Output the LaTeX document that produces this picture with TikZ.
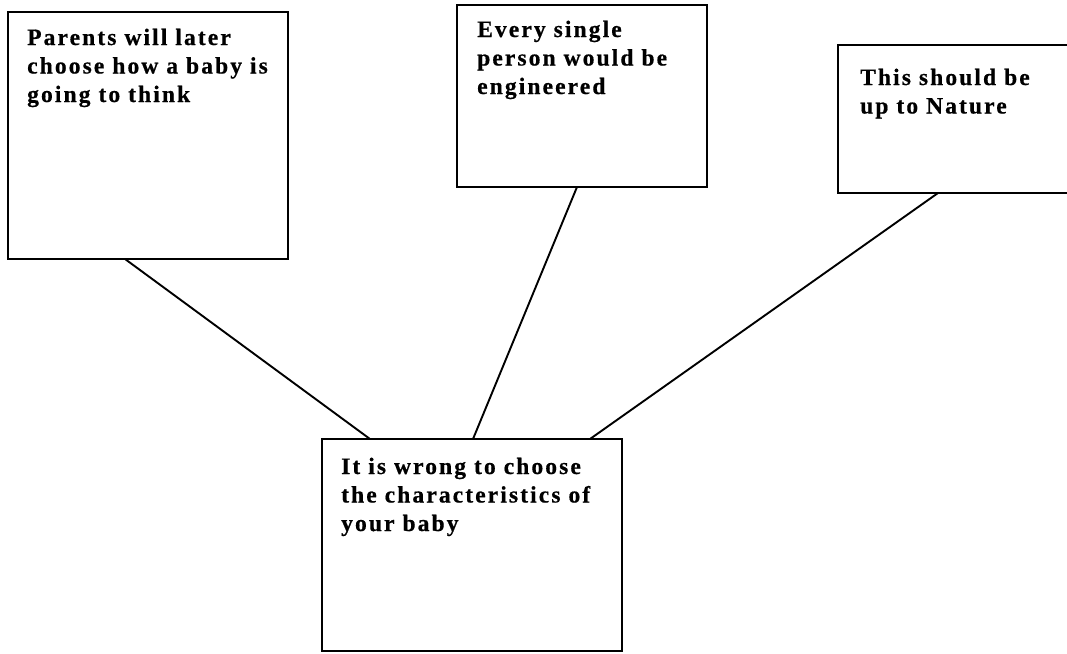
\documentclass[tikz,border=0pt]{standalone}
\usepackage{fontspec}
\setmainfont{Liberation Serif}[LetterSpace=9,BoldFeatures={FakeBold=0.6}]
\usetikzlibrary{calc}
\begin{document}
\begin{tikzpicture}[x=1pt,y=-1pt,
  box/.style={draw,line width=2.3pt,rectangle,anchor=north west,inner sep=0pt,outer sep=0pt},
  txt/.style={anchor=base west,inner sep=0pt,align=left,font=\bfseries\fontsize{23.5}{28.5}\selectfont},
  link/.style={line width=1.9pt}]
\useasboundingbox (0,0) rectangle (1067,653);
\begin{scope}
\clip (0,0) rectangle (1067,653);
\node[box,minimum width=280pt,minimum height=247pt] (b1) at (8,12) {};
\node[box,minimum width=250pt,minimum height=182pt] (b2) at (457,5) {};
\node[box,minimum width=260pt,minimum height=148pt] (b3) at (838,45) {};
\node[box,minimum width=300pt,minimum height=212pt] (b4) at (322,439) {};
\end{scope}
\node[txt] (t1) at (27,102) {Parents will later\\choose how a baby is\\going to think};
\node[txt] (t2) at (477,94) {Every single\\person would be\\engineered};
\node[txt] (t3) at (860,113.5) {This should be\\up to Nature};
\node[txt] (t4) at (341,531) {It is wrong to choose\\the characteristics of\\your baby};
\draw[link] ($(b1.south west)+(117,0)$) -- ($(b4.north west)+(48,0)$);
\draw[link] ($(b2.south west)+(120,0)$) -- ($(b4.north west)+(151,0)$);
\draw[link] ($(b3.south west)+(100,0)$) -- ($(b4.north west)+(268,0)$);
\end{tikzpicture}
\end{document}
